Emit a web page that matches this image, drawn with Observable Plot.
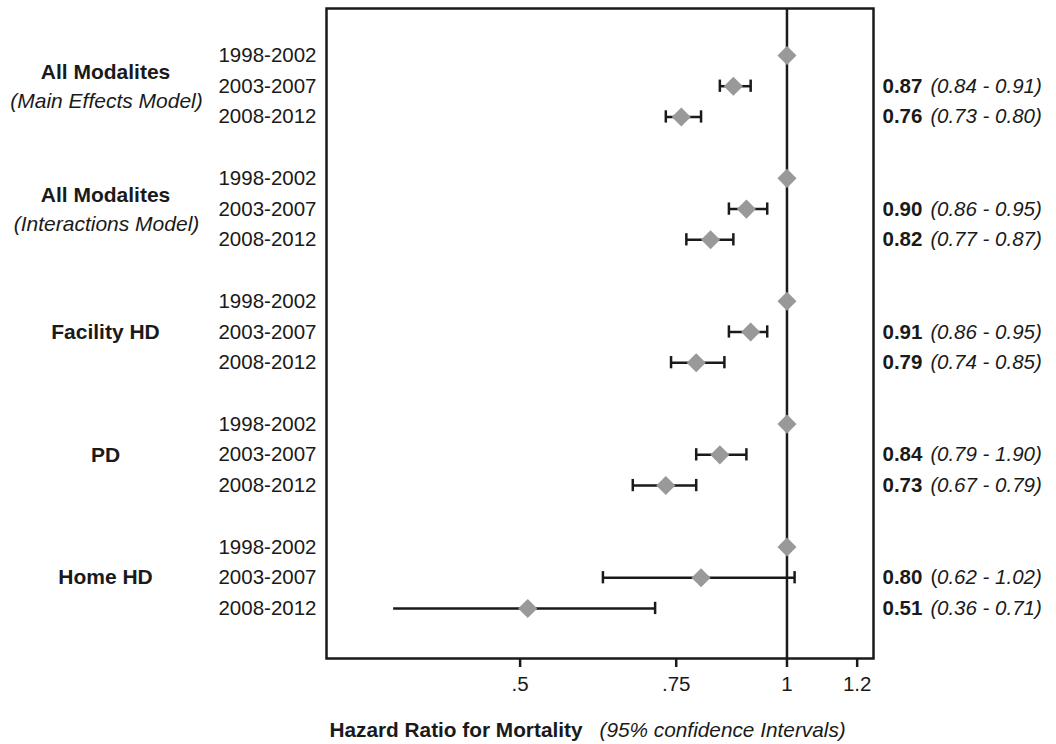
<!DOCTYPE html>
<html>
<head>
<meta charset="utf-8">
<script src="https://cdn.jsdelivr.net/npm/d3@7"></script>
<script src="https://cdn.jsdelivr.net/npm/@observablehq/plot@0.6"></script>
<style>
  html, body { margin: 0; padding: 0; background: #fff; }
  #chart { width: 1056px; height: 744px; }
</style>
</head>
<body>
<div id="chart"></div>
<script>
// ---- data ----
const groupLabels = ["All Modalites", "All Modalites", "Facility HD", "PD", "Home HD"];
const groupSubtitles = ["(Main Effects Model)", "(Interactions Model)", "", "", ""];
const periods = ["1998-2002", "2003-2007", "2008-2012"];
const hrMid  = [[1, 0.87, 0.76], [1, 0.90, 0.82], [1, 0.91, 0.79], [1, 0.84, 0.73], [1, 0.80, 0.51]];
const hrLow  = [[null, 0.84, 0.73], [null, 0.86, 0.77], [null, 0.86, 0.74], [null, 0.79, 0.67], [null, 0.62, 0.36]];
const hrHigh = [[null, 0.91, 0.80], [null, 0.95, 0.87], [null, 0.95, 0.85], [null, 0.90, 0.79], [null, 1.02, 0.71]];
const hrText = [["", "0.87", "0.76"], ["", "0.90", "0.82"], ["", "0.91", "0.79"], ["", "0.84", "0.73"], ["", "0.80", "0.51"]];
const ciText = [["", "0.84 - 0.91)", "0.73 - 0.80)"], ["", "0.86 - 0.95)", "0.77 - 0.87)"], ["", "0.86 - 0.95)", "0.74 - 0.85)"], ["", "0.79 - 1.90)", "0.67 - 0.79)"], ["", "0.62 - 1.02)", "0.36 - 0.71)"]];
const uprightParen = [[false, false, false], [false, false, false], [false, false, false], [false, false, false], [false, true, false]];
const lowerCapShown = [[false, true, true], [false, true, true], [false, true, true], [false, true, true], [false, true, false]];
const tickValues = [0.5, 0.75, 1, 1.2];
const tickLabels = [".5", ".75", "1", "1.2"];
const axisTitleBold = "Hazard Ratio for Mortality";
const axisTitleItalic = "(95% confidence Intervals)";

// ---- table ----
const rows = [];
groupLabels.forEach((g, gi) => {
  periods.forEach((p, pi) => {
    rows.push({
      group: g, gi, period: p, row: gi * 4 + pi,
      hr: hrMid[gi][pi], lo: hrLow[gi][pi], hi: hrHigh[gi][pi],
      hrText: hrText[gi][pi], ciText: ciText[gi][pi],
      upright: uprightParen[gi][pi], lowCap: lowerCapShown[gi][pi]
    });
  });
});
const ciRows = rows.filter(d => d.lo != null);
const caps = [];
ciRows.forEach(d => {
  if (d.lowCap) caps.push({x: d.lo, row: d.row});
  caps.push({x: d.hi, row: d.row});
});
const groupTitleRows = groupLabels.map((g, gi) => ({
  text: g, row: groupSubtitles[gi] ? gi * 4 + 0.55 : gi * 4 + 1
}));
const groupSubRows = groupSubtitles.map((s, gi) => ({text: s, row: gi * 4 + 1.5})).filter(d => d.text);

const ink = "#1a1a1a";
const font = "Liberation Sans, Arial, Helvetica, sans-serif";

const chart = Plot.plot({
  width: 1056,
  height: 744,
  marginTop: 8,
  marginBottom: 86,
  marginLeft: 326,
  marginRight: 183,
  style: {fontFamily: font, fontSize: "20px", color: ink, background: "#fff"},
  x: {type: "log", domain: [0.3024, 1.252]},
  y: {domain: [-1.53, 19.63], reverse: true, axis: null},
  marks: [
    Plot.ruleX([1], {stroke: ink, strokeWidth: 2.5}),
    Plot.ruleY(ciRows, {y: "row", x1: "lo", x2: "hi", stroke: ink, strokeWidth: 2.5}),
    Plot.ruleX(caps, {x: "x", y1: d => d.row - 0.2, y2: d => d.row + 0.2, stroke: ink, strokeWidth: 2.5}),
    Plot.dot(rows, {x: "hr", y: "row", symbol: "diamond2", r: 8.6, fill: "#999999", stroke: "none"}),
    Plot.frame({stroke: ink, strokeWidth: 2.5}),
    Plot.axisX({
      ticks: tickValues,
      tickFormat: d => tickLabels[tickValues.indexOf(d)],
      tickSize: 9, tickPadding: 9, fontSize: 20.5, strokeWidth: 2.5, stroke: ink, fill: ink, label: null
    }),
    // left labels
    Plot.text(rows, {y: "row", text: "period", frameAnchor: "left", dx: -10, textAnchor: "end", fontSize: 20.5, fill: ink}),
    Plot.text(groupTitleRows, {y: "row", text: "text", frameAnchor: "left", dx: -221, textAnchor: "middle", fontSize: 21, fontWeight: "bold", fill: ink}),
    Plot.text(groupSubRows, {y: "row", text: "text", frameAnchor: "left", dx: -220, textAnchor: "middle", fontSize: 21, fontStyle: "italic", fill: ink}),
    // right labels
    Plot.text(ciRows, {y: "row", text: "hrText", frameAnchor: "right", dx: 9, textAnchor: "start", fontSize: 20.5, fontWeight: "bold", fill: ink}),
    Plot.text(ciRows.filter(d => !d.upright), {y: "row", text: () => "(", frameAnchor: "right", dx: 57, textAnchor: "start", fontSize: 20.5, fontStyle: "italic", fill: ink}),
    Plot.text(ciRows.filter(d => d.upright), {y: "row", text: () => "(", frameAnchor: "right", dx: 57, textAnchor: "start", fontSize: 20.5, fill: ink}),
    Plot.text(ciRows, {y: "row", text: "ciText", frameAnchor: "right", dx: 63.5, textAnchor: "start", fontSize: 20.5, fontStyle: "italic", fill: ink}),
    // axis title
    Plot.text([axisTitleBold], {frameAnchor: "bottom-left", dx: 256, dy: 78, textAnchor: "end", fontSize: 20.8, fontWeight: "bold", fill: ink}),
    Plot.text([axisTitleItalic], {frameAnchor: "bottom-left", dx: 273, dy: 78, textAnchor: "start", fontSize: 20.8, fontStyle: "italic", fill: ink})
  ]
});
document.getElementById("chart").appendChild(chart);
</script>
</body>
</html>
